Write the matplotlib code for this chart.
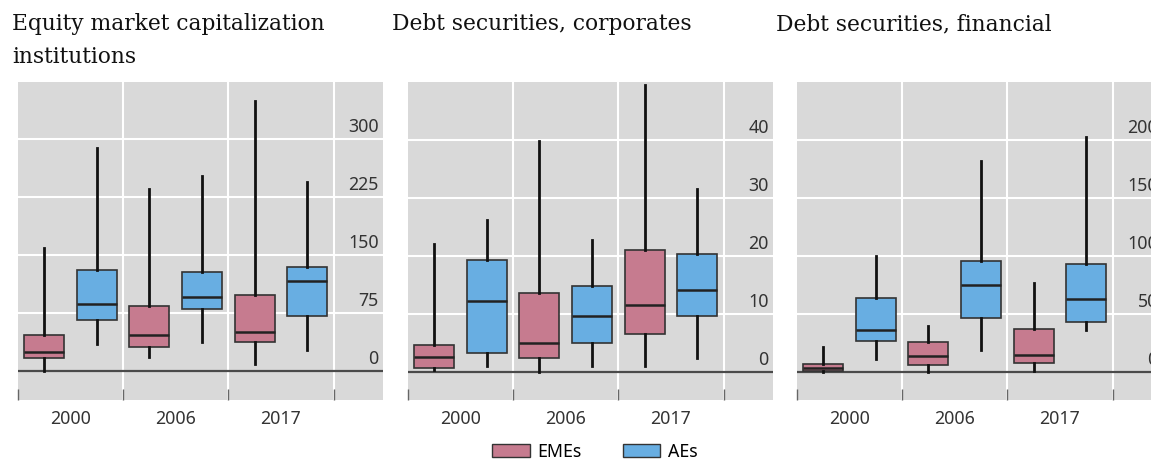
import numpy as np
import matplotlib.pyplot as plt
from matplotlib.patches import Patch

years = ['2000', '2006', '2017']
titles = ['Equity market capitalization\ninstitutions',
          'Debt securities, corporates',
          'Debt securities, financial']

# box stats per panel: whislo, q1, med, q3, whishi (one entry per year)
eq_eme = [[0, 17, 24, 46, 159], [18, 31, 47, 84, 235], [9, 37, 51, 99, 350]]
eq_ae = [[35, 66, 87, 131, 289], [37, 80, 96, 128, 253], [27, 71, 117, 135, 245]]
dc_eme = [[0.3, 0.7, 2.6, 4.6, 22], [0, 2.5, 5.1, 13.7, 39.8], [1.0, 6.6, 11.6, 21, 49.5]]
dc_ae = [[1.1, 3.3, 12.2, 19.3, 26.3], [1.1, 5.0, 9.7, 14.8, 22.7], [2.4, 9.6, 14.2, 20.4, 31.6]]
df_eme = [[0, 1, 4, 7, 22], [0, 6, 14, 26, 40], [1, 8, 15, 37, 77]]
df_ae = [[11, 27, 36, 64, 100], [19, 47, 75, 96, 182], [36, 43, 63, 93, 203]]

yticks = [[0, 75, 150, 225, 300], [0, 10, 20, 30, 40], [0, 50, 100, 150, 200]]
ylims = [(-37.5, 374), (-4.8, 50), (-24, 250)]

eme_col = '#c67b8f'
ae_col = '#68aee2'
bg = '#d9d9d9'
tick_font = 'Noto Sans'


def stats(rows):
    return [dict(whislo=r[0], q1=r[1], med=r[2], q3=r[3], whishi=r[4]) for r in rows]


fig = plt.figure(figsize=(11.51, 4.70), dpi=100)

lefts = [18, 408, 797]
panels = [(eq_eme, eq_ae), (dc_eme, dc_ae), (df_eme, df_ae)]
title_x = [12, 392, 776]

for k in range(3):
    ax = fig.add_axes([lefts[k] / 1151, 70 / 470, 365 / 1151, 318 / 470])
    ax.set_facecolor(bg)
    for s in ax.spines.values():
        s.set_visible(False)
    eme, ae = panels[k]
    for data, off, col in [(eme, 0.25, eme_col), (ae, 0.75, ae_col)]:
        pos = np.arange(len(years)) + off
        ax.bxp(stats(data), positions=pos, widths=0.38, showcaps=False,
               showfliers=False, patch_artist=True, manage_ticks=False,
               boxprops=dict(facecolor=col, edgecolor='#333333', linewidth=1.2),
               medianprops=dict(color='#222222', linewidth=1.8),
               whiskerprops=dict(color='#111111', linewidth=2.0),
               zorder=3)
    for v in yticks[k][1:]:
        ax.axhline(v, color='white', linewidth=1.5, zorder=1)
    for xv in [1, 2, 3]:
        ax.axvline(xv, color='white', linewidth=1.5, zorder=1)
    ax.axhline(0, color='#4a4a4a', linewidth=1.6, zorder=2)
    for v in yticks[k]:
        ax.annotate(str(v), xy=(1, v), xycoords=('axes fraction', 'data'),
                    xytext=(-3, 5), textcoords='offset points', ha='right',
                    va='baseline', fontsize=12.8, color='#333333', family=tick_font)
    ax.set_xlim(0, 3.47)
    ax.set_ylim(*ylims[k])
    ax.set_yticks([])
    ax.set_xticks([0, 1, 2, 3])
    ax.set_xticklabels([])
    ax.tick_params(axis='x', which='major', direction='in', length=8,
                   width=1.0, color='#666666')
    ax.set_xticks([0.5, 1.5, 2.5], minor=True)
    ax.set_xticklabels(years, minor=True, fontsize=12.8, color='#333333',
                       family=tick_font)
    ax.tick_params(axis='x', which='minor', length=0, pad=7)
    fig.text(title_x[k] / 1151, 1 - 13 / 470, titles[k], ha='left', va='top',
             fontsize=15.7, family='DejaVu Serif', color='#111111', linespacing=1.65)

handles = [Patch(facecolor=eme_col, edgecolor='#333333', label='EMEs'),
           Patch(facecolor=ae_col, edgecolor='#333333', label='AEs')]
fig.legend(handles=handles, loc='lower center', bbox_to_anchor=(595 / 1151, -0.014),
           ncol=2, frameon=False, prop={'family': tick_font, 'size': 12.8},
           handlelength=2.1, handleheight=0.8, columnspacing=2.3, handletextpad=0.45)

fig.savefig('out.png', dpi=100)
